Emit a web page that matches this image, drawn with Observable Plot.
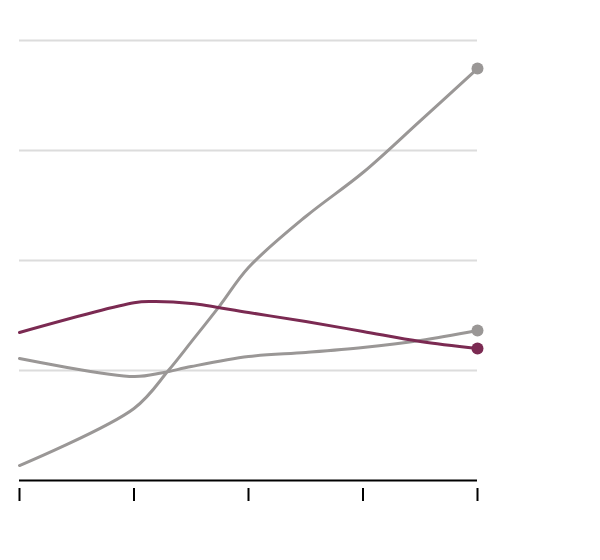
<!DOCTYPE html>
<html>
<head>
<meta charset="utf-8">
<script src="https://cdn.jsdelivr.net/npm/d3@7"></script>
<script src="https://cdn.jsdelivr.net/npm/@observablehq/plot@0.6"></script>
<style>
body { margin: 0; background: #fff; }
</style>
</head>
<body>
<div id="chart"></div>
<script>
const steepX = [0, 1, 1.3, 1.5, 1.75, 2, 2.5, 3, 3.5, 4];
const steepY = [0.136, 0.655, 1.0, 1.26, 1.59, 1.936, 2.4, 2.8, 3.27, 3.745];

const maroonX = [0, 1, 1.15, 1.5, 2, 2.5, 3, 3.5, 4];
const maroonY = [1.345, 1.615, 1.627, 1.61, 1.527, 1.445, 1.355, 1.264, 1.2];

const flatX = [0, 1, 1.25, 1.5, 2, 2.5, 3, 3.5, 4];
const flatY = [1.109, 0.945, 0.98, 1.036, 1.127, 1.164, 1.209, 1.273, 1.364];

const xTicks = [0, 1, 2, 3, 4];
const yGrid = [1, 2, 3, 4];

const GRAY = "#9a9796";
const MAROON = "#7b2a52";

const toRows = (xs, ys) => xs.map((x, i) => ({x, y: ys[i]}));
const steep = toRows(steepX, steepY);
const maroon = toRows(maroonX, maroonY);
const flat = toRows(flatX, flatY);
const ends = [
  {...steep[steep.length - 1], c: GRAY},
  {...flat[flat.length - 1], c: GRAY},
  {...maroon[maroon.length - 1], c: MAROON}
];

const chart = Plot.plot({
  width: 600,
  height: 560,
  marginLeft: 19,
  marginRight: 123,
  marginTop: 40,
  marginBottom: 80,
  x: {domain: [0, 4], axis: null, label: null},
  y: {domain: [0, 4], axis: null, label: null},
  marks: [
    Plot.ruleY(yGrid, {stroke: "#dcdcdc", strokeWidth: 2}),
    Plot.ruleY([0], {stroke: "#000", strokeWidth: 2}),
    Plot.axisX({ticks: xTicks, tickSize: 13, dy: 8, label: null, tickFormat: () => "", stroke: "#000", strokeWidth: 2, strokeOpacity: 1}),
    Plot.line(flat, {x: "x", y: "y", stroke: GRAY, strokeWidth: 3, curve: "catmull-rom"}),
    Plot.line(steep, {x: "x", y: "y", stroke: GRAY, strokeWidth: 3, curve: "catmull-rom"}),
    Plot.line(maroon, {x: "x", y: "y", stroke: MAROON, strokeWidth: 3, curve: "catmull-rom"}),
    Plot.dot(ends, {x: "x", y: "y", r: 6, fill: "c", stroke: "none"})
  ]
});
document.getElementById("chart").append(chart);
</script>
</body>
</html>
